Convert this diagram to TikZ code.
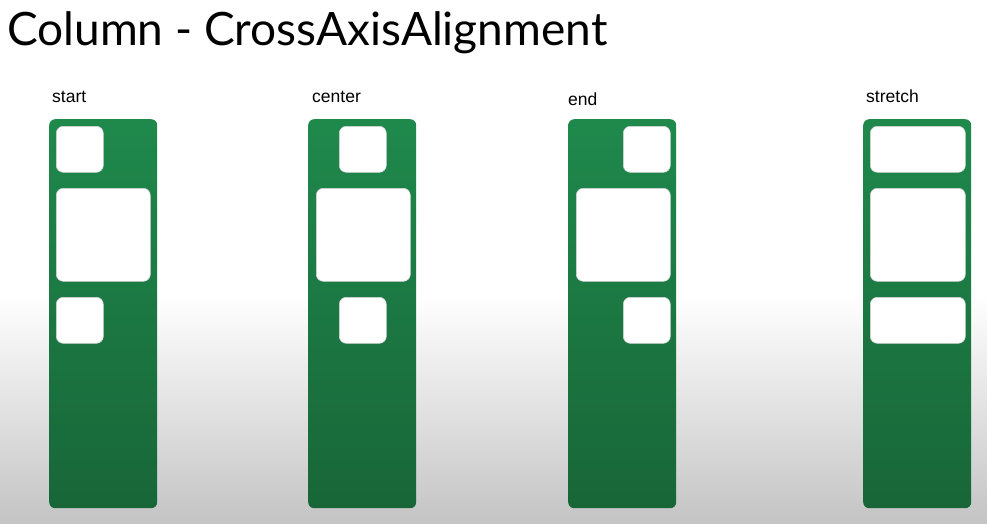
\documentclass[tikz,border=0pt]{standalone}
\usepackage{fontspec}
\setmainfont{Liberation Sans}
\newfontfamily\titlefont{Lato}
\definecolor{gtop}{RGB}{31,137,76}
\definecolor{gbot}{RGB}{24,102,56}
\definecolor{bgbot}{RGB}{196,196,196}
\tikzset{
  panel/.style={anchor=north west, rounded corners=6pt, inner sep=0pt,
    minimum width=108pt, minimum height=389pt, top color=gtop, bottom color=gbot, draw=none},
  item/.style={anchor=north west, rounded corners=7pt, inner sep=0pt,
    fill=white, draw=black!18, line width=0.6pt},
  small/.style={item, minimum width=47pt, minimum height=46pt},
  big/.style={item, minimum width=94pt, minimum height=93pt},
  wide/.style={item, minimum width=95pt, minimum height=46pt},
  widebig/.style={item, minimum width=95pt, minimum height=93pt},
  lab/.style={anchor=base west, inner sep=0pt, font=\fontsize{17.5}{20}\selectfont},
}
\begin{document}
\begin{tikzpicture}[x=1pt,y=-1pt]
\useasboundingbox (0,0) rectangle (987,523);
\fill[white] (0,0) rectangle (987,295);
\shade[top color=white, bottom color=bgbot] (0,295) rectangle (987,523);
\node[anchor=base west, inner sep=0pt, font=\titlefont\fontsize{46}{50}\selectfont] (title) at (7,45) {Column - CrossAxisAlignment};
% labels
\node[lab] (lstart) at (52,102) {start};
\node[lab] (lcenter) at (312,102) {center};
\node[lab] (lend) at (568,105) {end};
\node[lab] (lstretch) at (866,102) {stretch};
% start
\node[panel] (p1) at (49,119) {};
\node[small] (p1a) at (56,126) {};
\node[big] (p1b) at (56,188) {};
\node[small] (p1c) at (56,297) {};
% center
\node[panel] (p2) at (308,119) {};
\node[small] (p2a) at (339,126) {};
\node[big] (p2b) at (316,188) {};
\node[small] (p2c) at (339,297) {};
% end
\node[panel] (p3) at (568,119) {};
\node[small] (p3a) at (623,126) {};
\node[big] (p3b) at (576,188) {};
\node[small] (p3c) at (623,297) {};
% stretch
\node[panel] (p4) at (863,119) {};
\node[wide] (p4a) at (870,126) {};
\node[widebig] (p4b) at (870,188) {};
\node[wide] (p4c) at (870,297) {};
\end{tikzpicture}
\end{document}
